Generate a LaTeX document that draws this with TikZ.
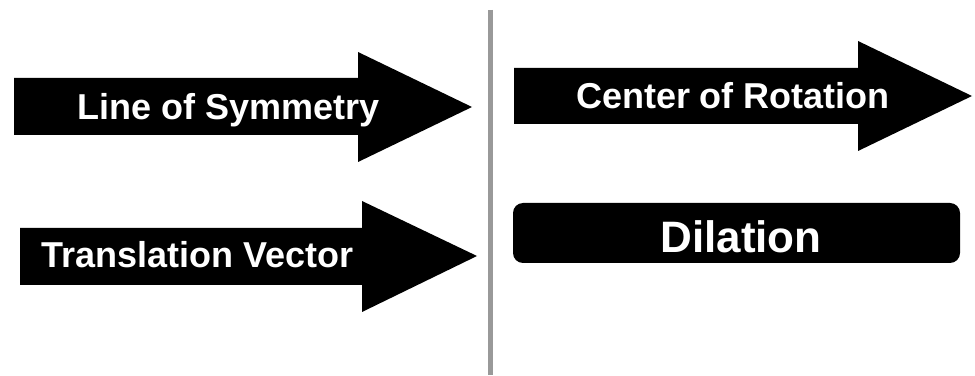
\documentclass[tikz,border=0pt]{standalone}
\usepackage{fontspec}
\setmainfont{Liberation Sans}
\usepackage{tikz}
\usetikzlibrary{positioning,calc}

\tikzset{
    blockarrow/.style={fill=black, draw=none},
    arrowlabel/.style={text=white, font=\bfseries\fontsize{36}{40}\selectfont, anchor=base, inner sep=0pt}
}

\begin{document}
\begin{tikzpicture}[x=1pt, y=1pt]
    \useasboundingbox (0,0) rectangle (975,375);

    % Divider
    \draw[line width=5pt, black!40] (490,365) -- (490,0);

    % Line of Symmetry
    \fill[blockarrow] (14,297) -- (358,297) -- (358,323) -- (472,268) -- (358,213) -- (358,240) -- (14,240) -- cycle;
    \node[arrowlabel] (sym) at (229,255) {Line of Symmetry};

    % Translation Vector
    \fill[blockarrow] (20,147) -- (362,147) -- (362,174) -- (477,119) -- (362,63) -- (362,90) -- (20,90) -- cycle;
    \node[arrowlabel] (trans) at (197.5,107) {Translation Vector};

    % Center of Rotation
    \fill[blockarrow] (514,307) -- (858,307) -- (858,334) -- (972,279) -- (858,224) -- (858,251) -- (514,251) -- cycle;
    \node[arrowlabel] (rot) at (733,266) {Center of Rotation};

    % Dilation
    \fill[blockarrow, rounded corners=10pt] (513,112) rectangle (960,172);
    \node[arrowlabel, font=\bfseries\fontsize{44}{48}\selectfont] (dil) at (741,122) {Dilation};
\end{tikzpicture}
\end{document}
